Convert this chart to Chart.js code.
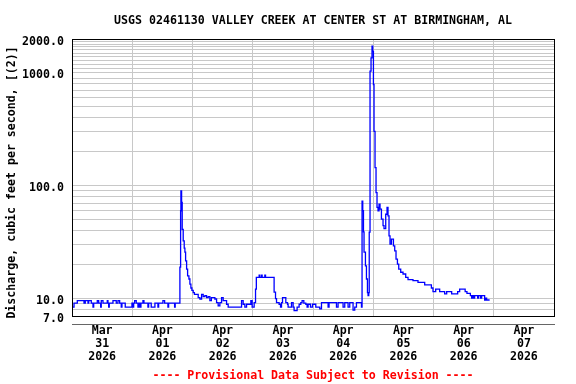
<!DOCTYPE html>
<html><head><meta charset="utf-8">
<script src="https://cdn.jsdelivr.net/npm/chart.js@4"></script>
<style>html,body{margin:0;padding:0;background:#fff;}canvas{display:block;}</style>
</head><body>
<canvas id="c" width="576" height="384"></canvas>
<script>
// ---- text ----
const chartTitle = 'USGS 02461130 VALLEY CREEK AT CENTER ST AT BIRMINGHAM, AL';
const yAxisTitle = 'Discharge, cubic feet per second, [(2)]';
const footerText = '---- Provisional Data Subject to Revision ----';

// ---- x axis: hours since 2026-03-31 00:00 ----
const xRangeHours = [0, 192];
const xDayLabels = [
  ['Mar','31','2026'], ['Apr','01','2026'], ['Apr','02','2026'], ['Apr','03','2026'],
  ['Apr','04','2026'], ['Apr','05','2026'], ['Apr','06','2026'], ['Apr','07','2026']
];

// ---- y axis (log) ----
const yRange = [7, 2000];
const yLabeledTicks = [7, 10, 100, 1000, 2000];
const yGridTicks = [7,8,9,10,20,30,40,50,60,70,80,90,100,200,300,400,500,600,700,800,900,
  1000,1100,1200,1300,1400,1500,1600,1700,1800,1900,2000];

// ---- discharge series: time (h since Mar 31 00:00) and value (cfs) ----
const hours = [
  0,0.8,2.11,4.78,5.29,6.37,6.65,7.68,8.36,8.64,10.07,10.63,11.42,11.66,12.34,14.05,14.33,14.61,14.85,
  16.32,17.63,18.31,18.98,19.62,19.9,21.21,23.88,24.28,24.56,24.95,25.59,26.27,26.55,27.06,27.46,28.26,
  28.66,30.25,30.53,31.56,33.03,34.23,34.51,36.22,36.89,38.21,38.49,40.87,41.11,
  42.98,43.26,43.38,43.66,43.9,44.3,44.7,44.97,45.25,45.65,46.05,46.57,46.96,47.36,47.76,48.28,48.76,
  50.27,50.94,51.62,52.26,52.93,53.61,54.25,54.92,55.52,56.91,57.59,58.23,58.9,59.58,60.22,61.57,62.21,
  67.54,68.18,68.85,69.53,71.24,71.76,72.56,73.11,73.43,74.55,74.82,75.5,75.74,76.81,77.09,
  80.51,81.07,81.47,82.5,83.06,83.46,83.86,85.17,85.85,86.09,87.44,88.08,88.47,89.67,90.47,91.14,91.66,
  92.34,93.13,93.65,94.05,95.0,95.8,97.11,98.7,99.38,102.01,102.4,105.35,105.99,107.98,108.65,109.97,
  110.64,111.96,112.63,113.31,115.3,
  115.54,115.82,116.1,116.33,116.89,117.29,117.69,117.93,118.21,118.4,118.72,119.12,119.51,119.79,
  120.07,120.31,120.71,121.11,121.5,121.9,122.3,122.7,123.26,123.9,124.29,124.97,125.49,125.88,126.28,
  126.68,127.24,128.04,128.55,129.07,129.63,130.15,130.94,131.86,132.93,133.85,135.83,137.82,140.49,
  143.16,143.8,144.87,146.46,148.45,149.25,151.24,153.63,154.42,156.61,157.33,158.68,159.2,159.6,160.0,
  160.39,161.59,161.99,162.78,163.18,164.37,164.77,165.17,166.36
];
const cfs = [
  8.4,9.1,9.6,9.1,9.6,9.1,9.6,9.1,8.4,9.1,9.6,9.1,8.4,9.6,9.1,9.6,9.1,8.4,9.1,
  9.6,9.1,9.6,9.1,8.4,9.1,8.4,9.1,8.4,9.1,9.6,9.1,8.4,9.1,8.4,9.1,9.6,
  9.1,8.4,9.1,8.4,9.1,8.4,9.1,9.6,9.1,8.4,9.1,8.4,9.1,
  19,60,90,71,41,32.5,28,25.8,21.6,18.2,15.9,14.9,13.4,12.4,11.8,11.3,10.9,
  10.2,9.9,10.9,10.4,10.6,10.2,10.4,9.6,10.2,9.9,9.2,8.6,9.2,10.2,9.6,8.9,8.4,
  9.6,8.9,8.4,8.9,9.6,8.4,9.2,12.1,15.4,16.1,15.4,16.1,15.4,16.1,15.4,
  11.4,10.0,9.2,8.9,8.4,9.2,10.2,9.2,8.9,8.4,9.2,8.4,7.8,8.4,8.9,9.2,9.6,
  9.1,8.9,8.4,8.9,8.4,8.9,8.4,8.1,9.2,8.4,9.2,8.4,9.2,8.4,9.2,8.4,
  9.2,7.9,8.4,9.2,8.4,
  73,60,39,25.8,19.5,14.9,11.3,10.6,11.3,38.8,1040,1360,1730,1550,
  790,303,145,87,64.3,60,68.6,62,50.5,44.3,41.7,55.9,64.3,54,35.9,
  30.4,33.6,29.3,26.5,22.4,20.2,18.2,17.1,16.5,15.4,14.7,14.4,13.9,13.2,
  12.4,11.5,12.1,11.5,11.0,11.5,11.0,11.5,12.1,11.5,11.1,10.6,10.1,10.6,10.1,
  10.6,10.1,10.6,10.1,10.6,9.7,10.1,9.7,9.7
];

const FONT = 'DejaVu Sans Mono';
const fontSpec = { family: FONT, weight: 'bold', size: 11.6, lineHeight: 13 / 11.6 };
const gridGray = '#c8c8c8';

const decorPlugin = {
  id: 'decor',
  afterDraw(chart) {
    const { ctx, chartArea: a } = chart;
    const cx = (a.left + a.right) / 2;
    ctx.save();
    // frame
    ctx.strokeStyle = '#000';
    ctx.lineWidth = 1;
    ctx.strokeRect(Math.round(a.left) + 0.5, Math.round(a.top) + 0.5,
      Math.round(a.right) - Math.round(a.left), Math.round(a.bottom) - Math.round(a.top));
    // thin axis line below the plot
    ctx.strokeStyle = '#666';
    ctx.beginPath();
    ctx.moveTo(Math.round(a.left), a.bottom + 8.5);
    ctx.lineTo(Math.round(a.right) + 1, a.bottom + 8.5);
    ctx.stroke();
    // texts
    ctx.font = 'bold 11.6px "' + FONT + '"';
    ctx.textAlign = 'center';
    ctx.textBaseline = 'alphabetic';
    ctx.fillStyle = '#000';
    ctx.fillText(chartTitle, cx, 24);
    ctx.fillStyle = '#ff0000';
    ctx.fillText(footerText, cx, 378.5);
    ctx.fillStyle = '#000';
    ctx.translate(15, 182.5);
    ctx.rotate(-Math.PI / 2);
    ctx.fillText(yAxisTitle, 0, 0);
    ctx.restore();
  }
};

new Chart(document.getElementById('c'), {
  type: 'line',
  data: {
    datasets: [{
      data: hours.map((h, i) => ({ x: h, y: cfs[i] })),
      borderColor: '#0000ff',
      borderWidth: 1.3,
      pointRadius: 0,
      stepped: 'before',
      fill: false
    }]
  },
  options: {
    responsive: false,
    animation: false,
    devicePixelRatio: 1,
    layout: { padding: { top: 39, right: 22, left: 0, bottom: 0 } },
    plugins: { legend: { display: false }, tooltip: { enabled: false }, title: { display: false } },
    scales: {
      x: {
        type: 'linear',
        min: xRangeHours[0],
        max: xRangeHours[1],
        afterBuildTicks(s) {
          const t = [];
          for (let h = xRangeHours[0]; h <= xRangeHours[1]; h += 12) t.push({ value: h });
          s.ticks = t;
        },
        afterFit(s) { s.height = 68; },
        border: { display: false },
        grid: {
          drawTicks: false,
          color: (c) => (c.tick && c.tick.value % 24 === 0 && c.tick.value > 0 && c.tick.value < 192) ? gridGray : 'rgba(0,0,0,0)',
          lineWidth: 1
        },
        ticks: {
          autoSkip: false,
          maxRotation: 0,
          padding: 8,
          color: '#000',
          font: fontSpec,
          callback: (v) => (v % 24 === 12) ? xDayLabels[(v - 12) / 24] : ''
        }
      },
      y: {
        type: 'logarithmic',
        min: yRange[0],
        max: yRange[1],
        afterBuildTicks(s) { s.ticks = yGridTicks.map(v => ({ value: v })); },
        afterFit(s) { s.width = 72; },
        border: { display: false },
        grid: { drawTicks: false, color: gridGray, lineWidth: 1 },
        ticks: {
          autoSkip: false,
          padding: 8,
          labelOffset: 2.5,
          color: '#000',
          font: fontSpec,
          callback: (v) => yLabeledTicks.includes(v) ? Number(v).toFixed(1) : ''
        }
      }
    }
  },
  plugins: [decorPlugin]
});
</script>
</body></html>
